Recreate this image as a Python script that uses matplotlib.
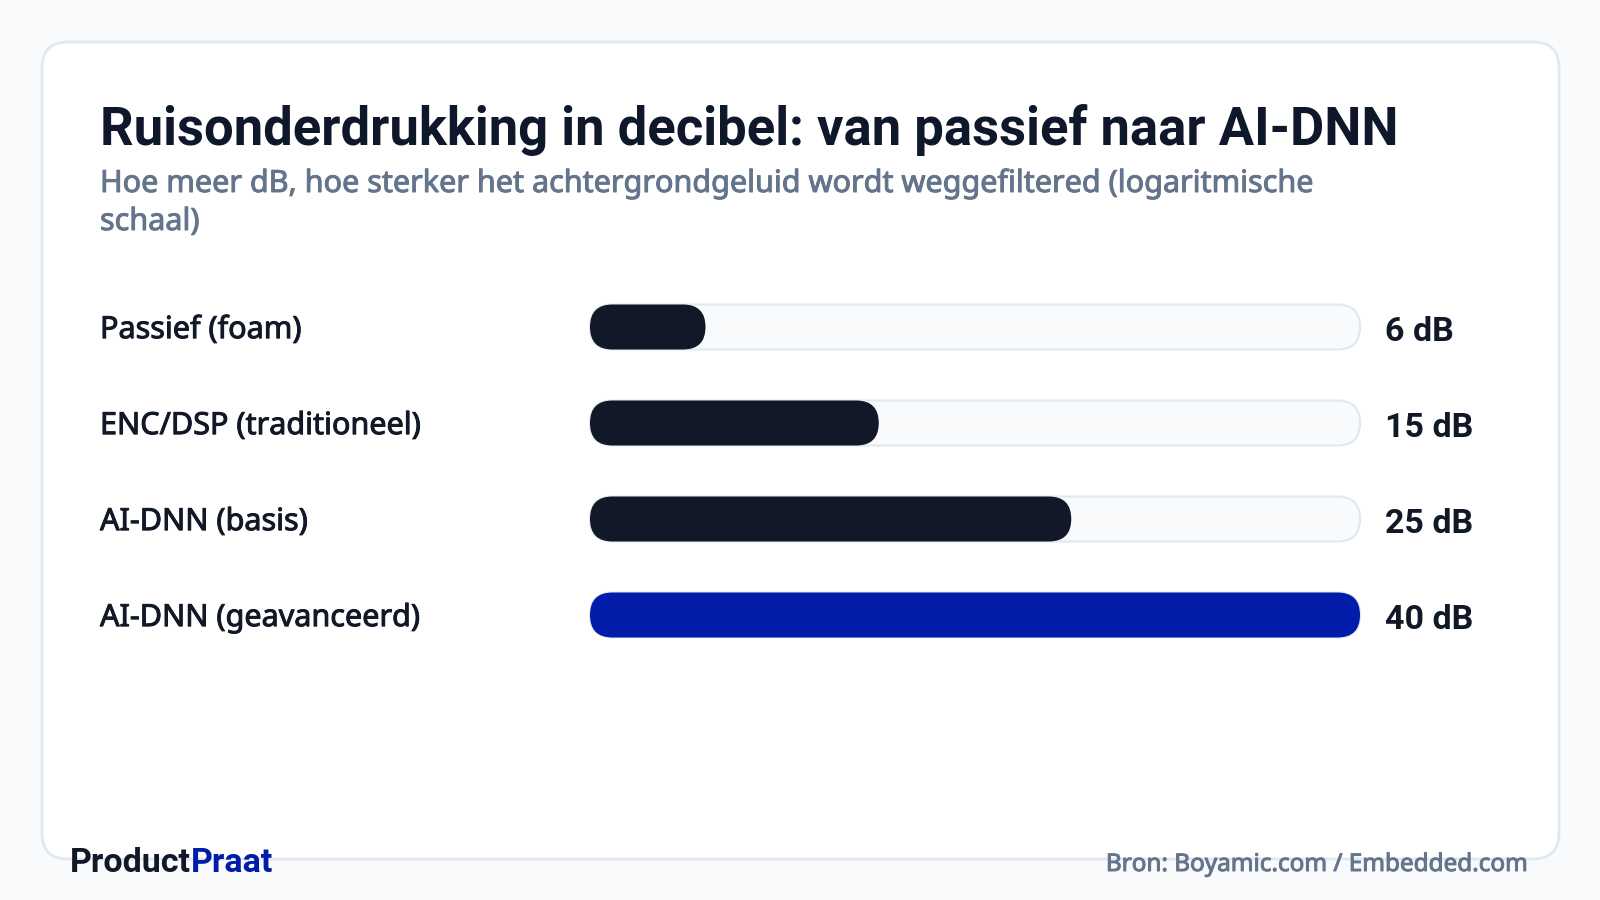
import matplotlib
matplotlib.use("Agg")
import matplotlib.pyplot as plt
import matplotlib.patheffects as pe
from matplotlib.patches import FancyBboxPatch

# Data
categories = ["Passief (foam)", "ENC/DSP (traditioneel)", "AI-DNN (basis)", "AI-DNN (geavanceerd)"]
values_db = [6, 15, 25, 40]
value_labels = ["6 dB", "15 dB", "25 dB", "40 dB"]
highlight = [False, False, False, True]

title = "Ruisonderdrukking in decibel: van passief naar AI-DNN"
subtitle_lines = ["Hoe meer dB, hoe sterker het achtergrondgeluid wordt weggefiltered (logaritmische",
                  "schaal)"]
source = "Bron: Boyamic.com / Embedded.com"

# Colours
BG = "#f8fafc"
BORDER = "#e2e8f0"
DARK = "#111827"
BLUE = "#001ca8"
GREY = "#64748b"

W, H = 1600, 900
fig = plt.figure(figsize=(16, 9), dpi=100, facecolor=BG)


def medium(color):
    # thin outline in text colour to fake a medium weight
    return [pe.withStroke(linewidth=0.7, foreground=color)]


# Background axes in pixel coordinates (origin top-left)
bg = fig.add_axes([0, 0, 1, 1])
bg.set_xlim(0, W)
bg.set_ylim(H, 0)
bg.axis("off")

card = FancyBboxPatch((42, 42), 1517, 817, boxstyle="round,pad=0,rounding_size=26",
                      facecolor="white", edgecolor=BORDER, linewidth=2)
bg.add_patch(card)

bg.text(100, 145, title, fontfamily="Roboto", fontweight="bold", fontsize=37.8,
        color="#0f172a", va="baseline", ha="left")
for k, line in enumerate(subtitle_lines):
    bg.text(100, 192 + 38 * k, line, fontfamily="Noto Sans", fontsize=22,
            color=GREY, va="baseline", ha="left", path_effects=medium(GREY))

# Footer
t1 = bg.text(70, 872, "Product", fontfamily="Roboto", fontweight="bold", fontsize=24.5,
             color=DARK, va="baseline", ha="left")
bg.annotate("Praat", xy=(1, 0), xycoords=t1, fontfamily="Roboto", fontweight="bold",
            fontsize=24.5, color=BLUE, va="bottom", ha="left")
bg.text(1529, 871, source, fontfamily="Noto Sans", fontsize=17.5,
        color=GREY, va="baseline", ha="right", path_effects=medium(GREY))

# Bar axes: track spans 590..1360 px, rows centred at 327, 423, 519, 615 px
left_px, right_px = 590, 1360
top_px, bot_px = 279, 663
ax = fig.add_axes([left_px / W, 1 - bot_px / H, (right_px - left_px) / W, (bot_px - top_px) / H])
xmax = max(values_db)
ax.set_xlim(0, xmax)
ax.set_ylim(len(categories) - 0.5, -0.5)
ax.axis("off")

px_per_x = (right_px - left_px) / xmax
px_per_y = (bot_px - top_px) / len(categories)
bar_h = 45 / px_per_y
radius = 22.5 / px_per_x
aspect = px_per_x / px_per_y

for i, (cat, v, lab, hl) in enumerate(zip(categories, values_db, value_labels, highlight)):
    track = FancyBboxPatch((0, i - bar_h / 2), xmax, bar_h,
                           boxstyle=f"round,pad=0,rounding_size={radius}",
                           mutation_aspect=aspect, facecolor=BG, edgecolor=BORDER,
                           linewidth=1.5, clip_on=False)
    ax.add_patch(track)
    bar = FancyBboxPatch((0, i - bar_h / 2), v, bar_h,
                         boxstyle=f"round,pad=0,rounding_size={radius}",
                         mutation_aspect=aspect, facecolor=BLUE if hl else DARK,
                         edgecolor="none", clip_on=False)
    ax.add_patch(bar)
    ax.annotate(lab, xy=(xmax, i), xytext=(18, -10), textcoords="offset points",
                fontfamily="Roboto", fontweight="bold", fontsize=24.5, color=DARK,
                va="baseline", ha="left", annotation_clip=False)
    ax.annotate(cat, xy=(100, i), xycoords=("figure pixels", "data"),
                xytext=(0, -8), textcoords="offset points",
                fontfamily="Noto Sans", fontsize=22, color=DARK,
                va="baseline", ha="left", annotation_clip=False,
                path_effects=medium(DARK))

fig.savefig("out.png", dpi=100, facecolor=BG)
